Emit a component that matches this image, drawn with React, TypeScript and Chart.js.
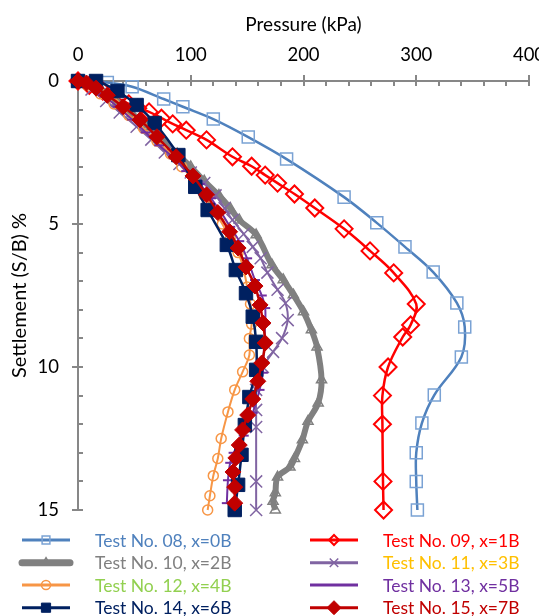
import React, { useEffect, useRef } from 'react';
import { Chart, registerables } from 'chart.js';
Chart.register(...registerables);

// ---- Data (pressure kPa vs settlement S/B %) ----
const seriesNames = [
  'Test No. 08, x=0B', 'Test No. 09, x=1B', 'Test No. 10, x=2B', 'Test No. 11, x=3B',
  'Test No. 12, x=4B', 'Test No. 13, x=5B', 'Test No. 14, x=6B', 'Test No. 15, x=7B',
];
const xTickValues = [0, 100, 200, 300, 400];
const yTickValues = [0, 5, 10, 15];

const test08P = [0, 26, 48, 76, 93, 120, 151, 185, 236, 265, 290, 315, 336, 343, 340, 316, 305, 300, 300, 301];
const test08S = [0, 0.05, 0.2, 0.63, 0.9, 1.33, 1.96, 2.73, 4.06, 4.96, 5.8, 6.68, 7.76, 8.6, 9.65, 10.98, 11.96, 13.0, 14.0, 15.0];

const test09P = [0, 10, 22, 35, 45, 53, 63, 74, 84, 96, 114, 137, 154, 166, 177, 192, 210, 236, 259, 280, 300, 295, 288, 275, 270, 270, 270.5, 271];
const test09S = [0, 0.15, 0.35, 0.6, 0.8, 0.95, 1.08, 1.3, 1.5, 1.72, 2.06, 2.65, 2.98, 3.29, 3.57, 3.95, 4.44, 5.17, 5.94, 6.71, 7.8, 8.53, 8.95, 10.0, 11.0, 12.0, 14.0, 15.0];

const test10P = [0, 10, 22, 35, 48, 62, 75, 88, 100, 112, 125, 135, 143, 158, 172, 182, 191, 200, 207, 212, 216, 213, 204, 199, 192, 188, 177, 175, 173, 175];
const test10S = [0, 0.15, 0.4, 0.75, 1.15, 1.6, 2.05, 2.55, 3.0, 3.5, 4.0, 4.45, 4.86, 5.38, 6.43, 6.95, 7.48, 8.07, 8.7, 9.3, 10.45, 11.26, 11.9, 12.55, 13.2, 13.5, 13.85, 14.4, 14.7, 15.0];

const test11P = [0, 12, 25, 37, 52, 65, 77, 90, 100, 112, 122, 130, 137, 147, 155, 162, 168, 177, 184, 186, 181, 173, 164, 158, 158, 158, 158, 158];
const test11S = [0, 0.3, 0.7, 1.1, 1.6, 2.05, 2.5, 2.9, 3.2, 3.57, 4.0, 4.45, 4.86, 5.35, 5.8, 6.2, 6.7, 7.3, 7.77, 8.36, 8.99, 9.47, 10.0, 10.8, 11.5, 12.1, 14.0, 15.0];

const test12P = [0, 8, 20, 32, 45, 58, 70, 82, 92, 103, 112, 120, 128, 135, 142, 147, 150, 153, 154, 152, 152, 146, 139, 133, 127, 124, 120, 117, 115];
const test12S = [0, 0.15, 0.45, 0.8, 1.2, 1.65, 2.1, 2.55, 3.0, 3.5, 4.0, 4.5, 5.0, 5.5, 6.0, 6.6, 7.2, 7.8, 8.5, 9.0, 9.58, 10.17, 10.8, 11.57, 12.5, 13.2, 13.8, 14.5, 15.0];

const test13P = [0, 10, 22, 35, 48, 60, 72, 85, 96, 108, 118, 127, 135, 143, 150, 157, 163, 166, 166, 165, 164, 161, 155, 147, 138, 135, 133, 132];
const test13S = [0, 0.2, 0.5, 0.9, 1.35, 1.8, 2.25, 2.7, 3.15, 3.6, 4.1, 4.6, 5.1, 5.6, 6.2, 6.96, 7.5, 7.94, 8.5, 9.2, 10.2, 10.8, 11.6, 12.4, 13.0, 13.35, 13.96, 14.76];

const test14P = [0, 16, 35, 52, 68, 89, 104, 115, 132, 140, 149, 155, 158, 158, 152, 148, 145, 142, 139];
const test14S = [0, 0, 0.35, 0.84, 1.47, 2.59, 3.7, 4.51, 5.73, 6.61, 7.42, 8.24, 9.12, 10.1, 11.05, 12.03, 13.07, 14.12, 15.0];

const test15P = [0, 7.5, 16, 26, 40, 55, 70, 87, 102, 114, 124, 134.5, 142, 149, 157, 161.5, 164, 166, 163, 159.5, 155, 150.5, 146, 143, 140, 137.5, 139, 139];
const test15S = [0, 0.07, 0.25, 0.5, 0.9, 1.36, 1.95, 2.65, 3.32, 3.98, 4.6, 5.27, 5.84, 6.5, 7.17, 7.83, 8.46, 9.16, 9.86, 10.5, 11.12, 11.68, 12.2, 12.73, 13.18, 13.67, 14.2, 14.76];

const pressures = [test08P, test09P, test10P, test11P, test12P, test13P, test14P, test15P];
const settlements = [test08S, test09S, test10S, test11S, test12S, test13S, test14S, test15S];

// ---- Styles ----
const FONT = 'Lato, "Open Sans", sans-serif';
const AXIS = '#878787';
type Sty = { line: string; lw: number; marker: string; mstroke: string; mfill: string; r: number; mlw: number; text: string; lr: number };
const styles: Sty[] = [
  { line: '#4F81BD', lw: 2.5, marker: 'rect', mstroke: '#7AA2D4', mfill: 'rgba(0,0,0,0)', r: 8.5, mlw: 1.5, text: '#4F81BD', lr: 5.5 },
  { line: '#FF0000', lw: 2.5, marker: 'rectRot', mstroke: '#FF0000', mfill: 'rgba(0,0,0,0)', r: 8.5, mlw: 2, text: '#FF0000', lr: 5 },
  { line: '#808080', lw: 6, marker: 'triangle', mstroke: '#808080', mfill: 'rgba(0,0,0,0)', r: 5.8, mlw: 1.5, text: '#808080', lr: 5 },
  { line: '#8064A2', lw: 2, marker: 'crossRot', mstroke: '#8064A2', mfill: 'rgba(0,0,0,0)', r: 8.5, mlw: 1.5, text: '#FFC000', lr: 6 },
  { line: '#F79646', lw: 2, marker: 'circle', mstroke: '#F79646', mfill: 'rgba(0,0,0,0)', r: 5, mlw: 1.5, text: '#92D050', lr: 4.5 },
  { line: '#7030A0', lw: 2, marker: 'line', mstroke: '#7030A0', mfill: '#7030A0', r: 5, mlw: 2, text: '#7030A0', lr: 5 },
  { line: '#002060', lw: 2.5, marker: 'rect', mstroke: '#002060', mfill: '#002060', r: 9.5, mlw: 1, text: '#002060', lr: 6.5 },
  { line: '#C00000', lw: 2.5, marker: 'rectRot', mstroke: '#C00000', mfill: '#C00000', r: 8, mlw: 1, text: '#C00000', lr: 7 },
];

function drawMarker(ctx: CanvasRenderingContext2D, s: Sty, x: number, y: number, r: number) {
  ctx.save();
  ctx.strokeStyle = s.mstroke;
  ctx.fillStyle = s.mfill;
  ctx.lineWidth = s.mlw;
  ctx.beginPath();
  const h = r * Math.SQRT1_2;
  switch (s.marker) {
    case 'rect':
      ctx.rect(x - h, y - h, 2 * h, 2 * h);
      break;
    case 'rectRot':
      ctx.moveTo(x - r, y); ctx.lineTo(x, y - r); ctx.lineTo(x + r, y); ctx.lineTo(x, y + r); ctx.closePath();
      break;
    case 'triangle':
      ctx.moveTo(x, y - r);
      ctx.lineTo(x + r * Math.sin(2 * Math.PI / 3), y - r * Math.cos(2 * Math.PI / 3));
      ctx.lineTo(x + r * Math.sin(4 * Math.PI / 3), y - r * Math.cos(4 * Math.PI / 3));
      ctx.closePath();
      break;
    case 'circle':
      ctx.arc(x, y, r, 0, Math.PI * 2);
      break;
    case 'crossRot':
      ctx.moveTo(x - h, y - h); ctx.lineTo(x + h, y + h);
      ctx.moveTo(x + h, y - h); ctx.lineTo(x - h, y + h);
      break;
    case 'line':
      ctx.moveTo(x - r, y); ctx.lineTo(x + r, y);
      break;
  }
  if (s.marker !== 'crossRot' && s.marker !== 'line') ctx.fill();
  ctx.stroke();
  ctx.restore();
}

const innerTicks = {
  id: 'innerTicks',
  beforeDatasetsDraw(chart: any) {
    const { ctx, chartArea, scales } = chart;
    const xs = scales.x, ys = scales.y;
    ctx.save();
    ctx.strokeStyle = AXIS;
    ctx.lineWidth = 2;
    for (let v = 20; v <= 400; v += 20) {
      const px = Math.round(xs.getPixelForValue(v));
      ctx.beginPath(); ctx.moveTo(px, chartArea.top); ctx.lineTo(px, chartArea.top + 5); ctx.stroke();
    }
    for (let v = 1; v <= 15; v += 1) {
      const py = Math.round(ys.getPixelForValue(v));
      ctx.beginPath(); ctx.moveTo(chartArea.left, py); ctx.lineTo(chartArea.left + 5, py); ctx.stroke();
    }
    ctx.restore();
  },
};

const customLegend = {
  id: 'customLegend',
  afterDraw(chart: any) {
    const { ctx } = chart;
    const colX = [14, 302];
    const textOff = 73;
    const rowY = [532, 554.7, 577, 599.7];
    ctx.save();
    ctx.font = `17.5px ${FONT}`;
    ctx.textBaseline = 'middle';
    ctx.textAlign = 'left';
    seriesNames.forEach((name, i) => {
      const s = styles[i];
      const x0 = colX[i % 2];
      const y = rowY[Math.floor(i / 2)];
      ctx.strokeStyle = s.line;
      ctx.lineWidth = s.lw >= 5 ? 7 : 3;
      ctx.lineCap = s.lw >= 5 ? 'round' : 'butt';
      ctx.beginPath(); ctx.moveTo(x0, y); ctx.lineTo(x0 + 48, y); ctx.stroke();
      drawMarker(ctx, s, x0 + 24, y, s.lr);
      ctx.fillStyle = s.text;
      ctx.fillText(name, x0 + textOff, y + 1);
    });
    ctx.restore();
  },
};

export default function App() {
  const ref = useRef<HTMLCanvasElement | null>(null);
  useEffect(() => {
    document.body.style.marginBottom = '0px';
    if (!ref.current) return;
    const datasets = pressures.map((ps, i) => {
      const s = styles[i];
      return {
        label: seriesNames[i],
        data: ps.map((p, j) => ({ x: p, y: settlements[i][j] })),
        showLine: true,
        borderColor: s.line,
        borderWidth: s.lw,
        backgroundColor: s.mfill,
        pointStyle: s.marker,
        pointRadius: s.r,
        pointBorderColor: s.mstroke,
        pointBackgroundColor: s.mfill,
        pointBorderWidth: s.mlw,
        tension: 0.35,
        clip: false,
        order: 7 - i,
      };
    });
    const chart = new Chart(ref.current, {
      type: 'scatter',
      data: { datasets } as any,
      plugins: [innerTicks, customLegend],
      options: {
        animation: false,
        responsive: false,
        layout: { padding: { top: 0, left: 0, right: 18, bottom: 106 } },
        plugins: { legend: { display: false }, tooltip: { enabled: false } },
        scales: {
          x: {
            type: 'linear',
            position: 'top',
            min: 0,
            max: 400,
            afterBuildTicks: (sc: any) => { sc.ticks = xTickValues.map((v) => ({ value: v })); },
            afterFit: (sc: any) => { sc.height = 73; sc.paddingLeft = 0; sc.paddingRight = 0; },
            ticks: { color: '#000', font: { family: FONT, size: 18.5 }, padding: 9, maxRotation: 0 },
            grid: { drawOnChartArea: false, drawTicks: true, tickLength: 6, color: AXIS, tickColor: AXIS, lineWidth: 2 },
            border: { display: true, color: AXIS, width: 2 },
            title: { display: true, text: 'Pressure (kPa)', color: '#000', font: { family: FONT, size: 19 }, padding: { top: 5.5, bottom: 0 } },
          },
          y: {
            type: 'linear',
            reverse: true,
            min: 0,
            max: 15,
            afterBuildTicks: (sc: any) => { sc.ticks = yTickValues.map((v) => ({ value: v })); },
            afterFit: (sc: any) => { sc.width = 70; sc.paddingTop = 0; sc.paddingBottom = 0; },
            ticks: { color: '#000', font: { family: FONT, size: 18.5 }, padding: 13 },
            grid: { drawOnChartArea: false, drawTicks: true, tickLength: 6, color: AXIS, tickColor: AXIS, lineWidth: 2 },
            border: { display: true, color: AXIS, width: 2 },
            title: { display: true, text: 'Settlement (S/B) %', color: '#000', font: { family: FONT, size: 20 }, padding: { top: 0, bottom: 0 } },
          },
        },
      } as any,
    });
    return () => chart.destroy();
  }, []);
  return (
    <div style={{ width: 539, height: 608 }}>
      <canvas ref={ref} width={539} height={608} style={{ display: 'block' }} />
    </div>
  );
}
